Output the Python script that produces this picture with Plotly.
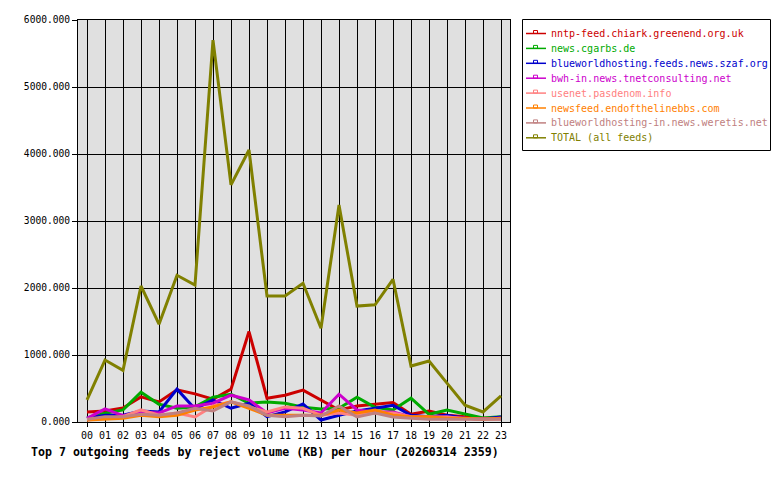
import plotly.graph_objects as go

hours = [f"{h:02d}" for h in range(24)]

names = [
    "nntp-feed.chiark.greenend.org.uk",
    "news.cgarbs.de",
    "blueworldhosting.feeds.news.szaf.org",
    "bwh-in.news.tnetconsulting.net",
    "usenet.pasdenom.info",
    "newsfeed.endofthelinebbs.com",
    "blueworldhosting-in.news.weretis.net",
    "TOTAL (all feeds)",
]
colors = ["#cc0000", "#00aa00", "#0000cc", "#cc00cc", "#ff8080", "#ff8000", "#c08080", "#808000"]

chiark = [150, 165, 210, 375, 300, 480, 420, 340, 490, 1350, 355, 400, 475, 330, 180, 240, 270, 290, 115, 165, 100, 75, 55, 55]
cgarbs = [60, 130, 180, 445, 265, 205, 225, 370, 415, 280, 300, 280, 220, 195, 205, 370, 220, 180, 355, 115, 180, 120, 60, 80]
szaf = [55, 100, 100, 165, 150, 490, 195, 330, 205, 280, 80, 150, 270, 30, 100, 165, 205, 250, 100, 80, 100, 55, 45, 75]
tnet = [55, 195, 95, 150, 135, 240, 240, 280, 400, 330, 135, 205, 180, 135, 415, 180, 150, 150, 80, 80, 75, 55, 45, 55]
pasdenom = [30, 55, 80, 180, 100, 135, 75, 240, 300, 225, 150, 225, 205, 100, 135, 100, 135, 135, 80, 75, 75, 50, 40, 40]
endofline = [30, 40, 55, 100, 80, 100, 180, 225, 300, 205, 100, 100, 100, 100, 180, 135, 180, 100, 80, 80, 55, 55, 40, 55]
weretis = [40, 80, 80, 115, 100, 135, 205, 165, 300, 240, 100, 80, 100, 90, 240, 75, 135, 75, 55, 40, 40, 40, 40, 40]
total = [330, 925, 770, 2030, 1460, 2190, 2045, 5700, 3540, 4060, 1880, 1880, 2070, 1400, 3240, 1730, 1750, 2130, 835, 910, 580, 250, 150, 390]

series = [chiark, cgarbs, szaf, tnet, pasdenom, endofline, weretis, total]

y_ticks = [0, 1000, 2000, 3000, 4000, 5000, 6000]
title = "Top 7 outgoing feeds by reject volume (KB) per hour (20260314 2359)"

W, H = 780, 480
L, R, T, B = 78, 510, 20, 422

fig = go.Figure()
for name, col, vals in zip(names, colors, series):
    fig.add_trace(go.Scatter(x=list(range(24)), y=vals, mode="lines", name=name,
                             line=dict(color=col, width=3), showlegend=False))

mono = "DejaVu Sans Mono"


def px_x(px):
    return (px - L) / (R - L)


def px_y(py):
    return (B - py) / (B - T)


shapes = []
annotations = []
# legend box
shapes.append(dict(type="rect", xref="paper", yref="paper", x0=px_x(522.5), x1=px_x(770.5),
                   y0=px_y(150.5), y1=px_y(19.5), line=dict(color="black", width=1), fillcolor="white",
                   layer="above"))
for i, (name, col) in enumerate(zip(names, colors)):
    yy = 33.5 + i * 14.9
    shapes.append(dict(type="line", xref="paper", yref="paper", x0=px_x(526), x1=px_x(546),
                       y0=px_y(yy), y1=px_y(yy), line=dict(color=col, width=1.5), layer="above"))
    shapes.append(dict(type="rect", xref="paper", yref="paper", x0=px_x(533.5), x1=px_x(537.5),
                       y0=px_y(yy), y1=px_y(yy - 3), line=dict(color=col, width=1), layer="above"))
    annotations.append(dict(text=name, xref="paper", yref="paper", x=px_x(549), y=px_y(yy),
                            xanchor="left", yanchor="middle", showarrow=False,
                            font=dict(family=mono, size=10, color=col)))

annotations.append(dict(text=f"<b>{title}</b>", xref="paper", yref="paper", x=px_x(265), y=px_y(452),
                        xanchor="center", yanchor="middle", showarrow=False,
                        font=dict(family=mono, size=11.6, color="black")))

fig.update_layout(
    width=W, height=H,
    margin=dict(l=L, r=W - R, t=T, b=H - B, pad=0),
    paper_bgcolor="white", plot_bgcolor="#e0e0e0",
    shapes=shapes, annotations=annotations,
    showlegend=False,
    font=dict(family=mono, size=10, color="black"),
)
fig.update_xaxes(range=[-0.5, 23.5], tickvals=list(range(24)), ticktext=hours,
                 showgrid=True, gridcolor="black", gridwidth=1,
                 showline=True, linecolor="black", linewidth=1, mirror=True,
                 ticks="outside", ticklen=4, tickcolor="black", zeroline=False,
                 tickfont=dict(family=mono, size=10))
fig.update_yaxes(range=[0, 6000], tickvals=y_ticks, tickformat=".3f",
                 showgrid=True, gridcolor="black", gridwidth=1,
                 showline=True, linecolor="black", linewidth=1, mirror=True,
                 ticks="outside", ticklen=5, tickcolor="black", zeroline=False,
                 tickfont=dict(family=mono, size=9.6))

fig.write_html("out.html")
